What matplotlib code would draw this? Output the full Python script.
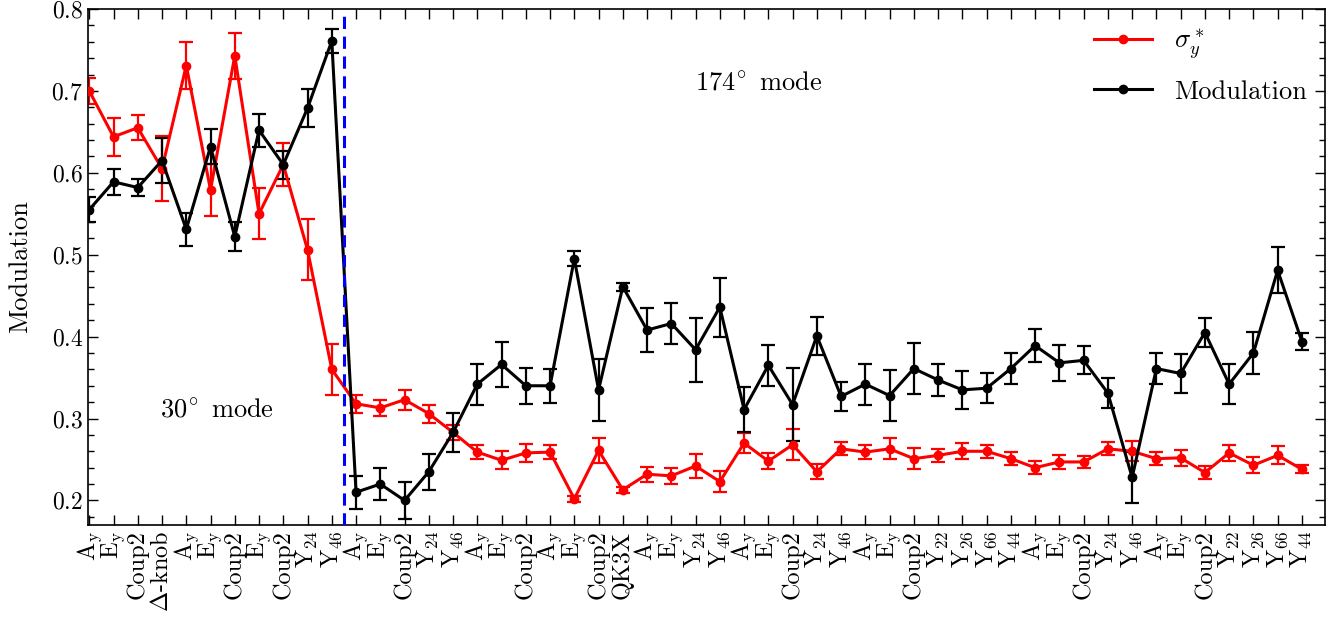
import matplotlib
matplotlib.use("Agg")
import matplotlib.pyplot as plt
import numpy as np
from matplotlib.ticker import MultipleLocator, FixedLocator

plt.rcParams['font.family'] = ['cmr10', 'DejaVu Serif']
plt.rcParams['mathtext.fontset'] = 'cm'
plt.rcParams['axes.unicode_minus'] = False
plt.rcParams['axes.formatter.use_mathtext'] = True

labels = [r'A$_{\rm y}$', r'E$_{\rm y}$', 'Coup2', r'$\Delta$-knob', r'A$_{\rm y}$', r'E$_{\rm y}$', 'Coup2',
          r'E$_{\rm y}$', 'Coup2', r'Y$_{24}$', r'Y$_{46}$',
          r'A$_{\rm y}$', r'E$_{\rm y}$', 'Coup2', r'Y$_{24}$', r'Y$_{46}$',
          r'A$_{\rm y}$', r'E$_{\rm y}$', 'Coup2',
          r'A$_{\rm y}$', r'E$_{\rm y}$', 'Coup2', 'QK3X',
          r'A$_{\rm y}$', r'E$_{\rm y}$', r'Y$_{24}$', r'Y$_{46}$',
          r'A$_{\rm y}$', r'E$_{\rm y}$', 'Coup2', r'Y$_{24}$', r'Y$_{46}$',
          r'A$_{\rm y}$', r'E$_{\rm y}$', 'Coup2', r'Y$_{22}$', r'Y$_{26}$', r'Y$_{66}$', r'Y$_{44}$',
          r'A$_{\rm y}$', r'E$_{\rm y}$', 'Coup2', r'Y$_{24}$', r'Y$_{46}$',
          r'A$_{\rm y}$', r'E$_{\rm y}$', 'Coup2', r'Y$_{22}$', r'Y$_{26}$', r'Y$_{66}$', r'Y$_{44}$']

sigma_y = [0.700, 0.644, 0.655, 0.605, 0.731, 0.579, 0.743, 0.550, 0.610, 0.506, 0.360,
           0.318, 0.313, 0.323, 0.306, 0.283, 0.259, 0.249, 0.258, 0.259, 0.202, 0.261, 0.213,
           0.232, 0.230, 0.242, 0.223, 0.270, 0.248, 0.268, 0.235, 0.263, 0.259, 0.263, 0.251,
           0.255, 0.260, 0.260, 0.251, 0.240, 0.247, 0.247, 0.263, 0.260, 0.251, 0.252, 0.234,
           0.258, 0.243, 0.255, 0.238]
sigma_err = [0.016, 0.023, 0.015, 0.040, 0.029, 0.032, 0.028, 0.031, 0.026, 0.037, 0.031,
             0.011, 0.010, 0.012, 0.011, 0.009, 0.009, 0.011, 0.011, 0.009, 0.004, 0.015, 0.004,
             0.009, 0.010, 0.015, 0.013, 0.012, 0.010, 0.019, 0.009, 0.008, 0.009, 0.013, 0.013,
             0.008, 0.010, 0.008, 0.008, 0.008, 0.009, 0.007, 0.008, 0.012, 0.008, 0.010, 0.008,
             0.010, 0.010, 0.011, 0.005]

modulation = [0.555, 0.589, 0.582, 0.615, 0.531, 0.632, 0.522, 0.652, 0.610, 0.679, 0.761,
              0.210, 0.220, 0.200, 0.235, 0.283, 0.342, 0.366, 0.340, 0.340, 0.495, 0.335, 0.461,
              0.408, 0.416, 0.384, 0.436, 0.311, 0.365, 0.317, 0.401, 0.327, 0.342, 0.328, 0.361,
              0.347, 0.335, 0.337, 0.361, 0.389, 0.368, 0.371, 0.331, 0.228, 0.361, 0.355, 0.405,
              0.342, 0.380, 0.481, 0.394]
mod_err = [0.015, 0.016, 0.010, 0.028, 0.020, 0.021, 0.018, 0.020, 0.017, 0.023, 0.015,
           0.020, 0.019, 0.023, 0.022, 0.024, 0.025, 0.028, 0.022, 0.021, 0.009, 0.038, 0.005,
           0.027, 0.025, 0.039, 0.036, 0.028, 0.025, 0.045, 0.023, 0.018, 0.025, 0.031, 0.031,
           0.019, 0.023, 0.018, 0.019, 0.020, 0.022, 0.017, 0.018, 0.031, 0.019, 0.024, 0.018,
           0.024, 0.026, 0.028, 0.010]

x = np.arange(len(labels))
red = '#ff0000'

fig = plt.figure(figsize=(13.3, 6.25), dpi=100)
ax = fig.add_axes([0.0662, 0.16, 0.930, 0.8256])

ax.errorbar(x, sigma_y, yerr=sigma_err, fmt='none', ecolor=red, elinewidth=1.6,
            capsize=5, capthick=1.6, zorder=2)
ax.plot(x, sigma_y, '-o', color=red, lw=2.2, ms=6, label=r'$\sigma_y^*$', zorder=3)
ax.errorbar(x, modulation, yerr=mod_err, fmt='none', ecolor='black', elinewidth=1.6,
            capsize=5, capthick=1.6, zorder=2)
ax.plot(x, modulation, '-o', color='black', lw=2.2, ms=6, label='Modulation', zorder=3)

ax.axvline(10.5, color='blue', ls='--', lw=2.2, dashes=(4, 2.5), zorder=4)

ax.set_xlim(-0.05, 50.95)
ax.set_ylim(0.17, 0.8)
ax.xaxis.set_major_locator(FixedLocator(x))
ax.set_xticklabels(labels, rotation=90, fontsize=17.5)
ax.yaxis.set_major_locator(MultipleLocator(0.1))
ax.yaxis.set_minor_locator(MultipleLocator(0.02))
ax.tick_params(axis='y', labelsize=17)
ax.tick_params(which='both', direction='in', top=True, right=True)
ax.tick_params(which='major', length=7, width=1)
ax.tick_params(which='minor', length=4, width=1)
ax.tick_params(axis='x', pad=4)
for s in ax.spines.values():
    s.set_linewidth(1.2)

ax.set_ylabel('Modulation', fontsize=19, labelpad=14)

ax.text(27.6, 0.71, r'174$^{\!\circ}$ mode', fontsize=19, ha='center', va='center')
ax.text(5.25, 0.311, r'30$^{\!\circ}$ mode', fontsize=19, ha='center', va='center')

ax.legend(loc='upper right', frameon=False, fontsize=19, handlelength=2.2,
          borderaxespad=0.3, labelspacing=0.7)

fig.savefig('out.png', dpi=100)
